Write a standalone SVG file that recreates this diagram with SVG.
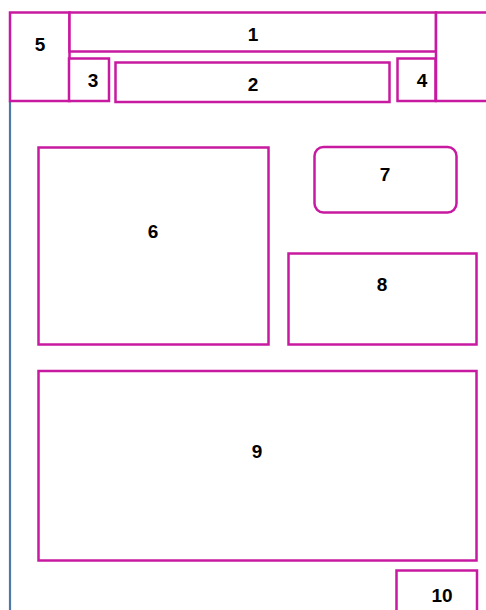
<svg xmlns="http://www.w3.org/2000/svg" width="486" height="610" viewBox="0 0 486 610">
<style>
.b{fill:#fff;stroke:#c81aa0;stroke-width:2.5}
.t{font-family:"Liberation Sans",Arial,sans-serif;font-weight:bold;font-size:19px;fill:#000;text-anchor:middle;dominant-baseline:central}
</style>
<rect width="486" height="610" fill="#fff"/>
<g id="connectors">
<line x1="10" y1="101" x2="10" y2="610" stroke="#4d78a8" stroke-width="2.2"/>
</g>
<g id="n5"><rect class="b" x="10" y="12.5" width="59.5" height="88.5"/><text class="t" x="40" y="44">5</text></g>
<g id="n1"><rect class="b" x="69.5" y="12.5" width="366.5" height="39"/><text class="t" x="253" y="34">1</text></g>
<g id="n3"><rect class="b" x="69" y="58.5" width="40" height="42.5"/><text class="t" x="93" y="80">3</text></g>
<g id="n2"><rect class="b" x="115.5" y="62.5" width="274" height="39.5"/><text class="t" x="253" y="84">2</text></g>
<g id="n4"><rect class="b" x="397.5" y="58.5" width="38" height="42.5"/><text class="t" x="422" y="80">4</text></g>
<g id="n11"><rect class="b" x="436" y="12.5" width="60" height="88.5"/></g>
<g id="n6"><rect class="b" x="38.5" y="147.5" width="230" height="197"/><text class="t" x="153" y="231">6</text></g>
<g id="n7"><rect class="b" x="314.5" y="147" width="142" height="65.5" rx="9"/><text class="t" x="385" y="174">7</text></g>
<g id="n8"><rect class="b" x="288.5" y="253.5" width="188" height="91"/><text class="t" x="382" y="284">8</text></g>
<g id="n9"><rect class="b" x="38.5" y="371" width="438" height="189.5"/><text class="t" x="257" y="451">9</text></g>
<g id="n10"><rect class="b" x="396.5" y="570.5" width="80.5" height="50"/><text class="t" x="442" y="595">10</text></g>
</svg>
